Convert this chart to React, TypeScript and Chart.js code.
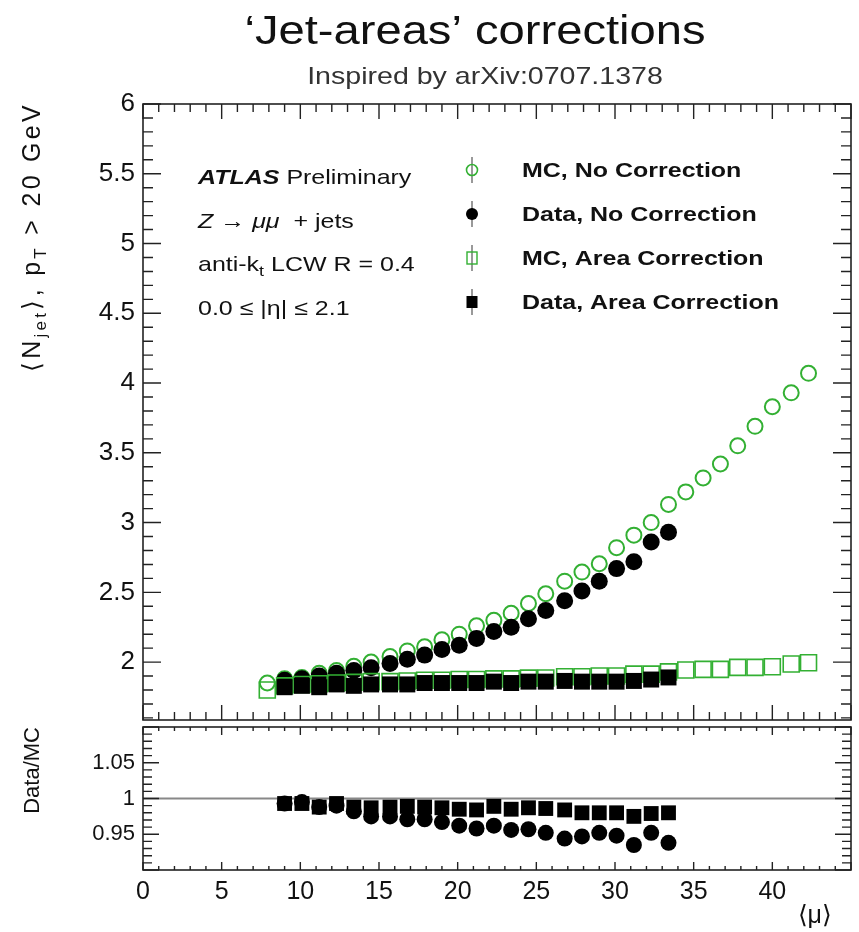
import React, { useEffect, useRef } from 'react';
import { Chart, registerables } from 'chart.js';

Chart.register(...registerables);

// ---------------- data ----------------
const MC_MU = [7.9, 9.0, 10.1, 11.2, 12.3, 13.4, 14.5, 15.7, 16.8, 17.9, 19.0, 20.1, 21.2, 22.3, 23.4, 24.5, 25.6, 26.8, 27.9, 29.0, 30.1, 31.2, 32.3, 33.4, 34.5, 35.6, 36.7, 37.8, 38.9, 40.0, 41.2, 42.3];
const DATA_MU = [9.0, 10.1, 11.2, 12.3, 13.4, 14.5, 15.7, 16.8, 17.9, 19.0, 20.1, 21.2, 22.3, 23.4, 24.5, 25.6, 26.8, 27.9, 29.0, 30.1, 31.2, 32.3, 33.4];

const MC_NO_CORR = [1.85, 1.88, 1.89, 1.92, 1.94, 1.97, 2.0, 2.04, 2.08, 2.11, 2.16, 2.2, 2.26, 2.3, 2.35, 2.42, 2.49, 2.58, 2.645, 2.705, 2.82, 2.91, 3.0, 3.13, 3.22, 3.32, 3.42, 3.55, 3.69, 3.83, 3.93, 4.07];
const DATA_NO_CORR = [1.87, 1.88, 1.9, 1.92, 1.94, 1.96, 1.99, 2.02, 2.05, 2.09, 2.12, 2.17, 2.22, 2.25, 2.31, 2.37, 2.44, 2.51, 2.58, 2.67, 2.72, 2.86, 2.93];
const MC_AREA = [1.8, 1.83, 1.84, 1.845, 1.85, 1.855, 1.86, 1.86, 1.865, 1.87, 1.87, 1.875, 1.875, 1.88, 1.88, 1.885, 1.886, 1.895, 1.895, 1.9, 1.9, 1.914, 1.914, 1.93, 1.943, 1.948, 1.948, 1.962, 1.962, 1.967, 1.986, 1.995];
const DATA_AREA = [1.82, 1.83, 1.82, 1.84, 1.83, 1.84, 1.84, 1.84, 1.85, 1.85, 1.85, 1.85, 1.86, 1.85, 1.86, 1.86, 1.865, 1.86, 1.86, 1.86, 1.865, 1.875, 1.89];

const RATIO_NO_CORR = [0.993, 0.995, 0.988, 0.99, 0.982, 0.975, 0.975, 0.971, 0.971, 0.967, 0.962, 0.958, 0.962, 0.956, 0.957, 0.952, 0.944, 0.947, 0.952, 0.948, 0.935, 0.952, 0.938];
const RATIO_AREA = [0.993, 0.993, 0.988, 0.993, 0.988, 0.987, 0.988, 0.989, 0.988, 0.987, 0.985, 0.984, 0.989, 0.985, 0.987, 0.986, 0.984, 0.98, 0.98, 0.98, 0.975, 0.979, 0.98];

const X_TICKS = [0, 5, 10, 15, 20, 25, 30, 35, 40];
const Y_TICKS_MAIN = [2, 2.5, 3, 3.5, 4, 4.5, 5, 5.5, 6];
const Y_TICKS_RATIO = [0.95, 1, 1.05];

const LEGEND_LABELS = ['MC, No Correction', 'Data, No Correction', 'MC, Area Correction', 'Data, Area Correction'];

// ---------------- style ----------------
const FONT = '"Liberation Sans", Arial, Helvetica, sans-serif';
const GREEN = '#33b033';
const INK = '#111';
const SX = 1.19; // horizontal text stretch of the reference

const pts = (xs: number[], ys: number[]) => xs.map((x, i) => ({ x, y: ys[i] }));

type Run = { t: string; size: number; weight?: string; style?: string; dy?: number };
const fontOf = (r: Run) => `${r.style || ''} ${r.weight || ''} ${r.size}px ${FONT}`.trim();
function runsWidth(ctx: CanvasRenderingContext2D, runs: Run[], ls = 0) {
  let w = 0;
  for (const r of runs) {
    ctx.font = fontOf(r);
    for (const ch of Array.from(r.t)) w += ctx.measureText(ch).width + ls;
  }
  return w;
}
function drawRuns(ctx: CanvasRenderingContext2D, x: number, y: number, runs: Run[], sx = 1, ls = 0) {
  ctx.save();
  ctx.translate(x, y);
  ctx.scale(sx, 1);
  ctx.textAlign = 'left';
  ctx.textBaseline = 'alphabetic';
  let cx = 0;
  for (const r of runs) {
    ctx.font = fontOf(r);
    if (ls === 0) {
      ctx.fillText(r.t, cx, r.dy || 0);
      cx += ctx.measureText(r.t).width;
    } else {
      for (const ch of Array.from(r.t)) {
        ctx.fillText(ch, cx, r.dy || 0);
        cx += ctx.measureText(ch).width + ls;
      }
    }
  }
  ctx.restore();
}
function drawCentered(ctx: CanvasRenderingContext2D, cx: number, y: number, runs: Run[], sx = 1) {
  const w = runsWidth(ctx, runs) * sx;
  drawRuns(ctx, cx - w / 2, y, runs, sx);
}
function drawRotatedRuns(ctx: CanvasRenderingContext2D, baseX: number, topY: number, runs: Run[], ls = 0) {
  const w = runsWidth(ctx, runs, ls);
  ctx.save();
  ctx.translate(baseX, topY);
  ctx.rotate(-Math.PI / 2);
  drawRuns(ctx, -w, 0, runs, 1, ls);
  ctx.restore();
}

type FrameCfg = {
  yMinorStep: number; yMinI: number; yMaxI: number; yMajEvery: number; yMaj: number; yMin: number;
  xMaj: number; xMin: number;
};
function framePlugin(cfg: FrameCfg) {
  return {
    id: 'frameTicks',
    afterDatasetsDraw(chart: any) {
      const { ctx, chartArea: a, scales } = chart;
      const xs = scales.x, ys = scales.y;
      ctx.save();
      ctx.strokeStyle = '#222';
      ctx.lineWidth = 1.4;
      ctx.beginPath();
      for (let i = 0; i <= 45; i++) {
        const major = i % 5 === 0;
        const L = major ? cfg.xMaj : cfg.xMin;
        const px = xs.getPixelForValue(i);
        ctx.moveTo(px, a.bottom); ctx.lineTo(px, a.bottom - L);
        ctx.moveTo(px, a.top); ctx.lineTo(px, a.top + L);
      }
      for (let i = cfg.yMinI; i <= cfg.yMaxI; i++) {
        const major = i % cfg.yMajEvery === 0;
        const L = major ? cfg.yMaj : cfg.yMin;
        const py = ys.getPixelForValue(i * cfg.yMinorStep);
        ctx.moveTo(a.left, py); ctx.lineTo(a.left + L, py);
        ctx.moveTo(a.right, py); ctx.lineTo(a.right - L, py);
      }
      ctx.stroke();
      ctx.lineWidth = 1.6;
      ctx.strokeRect(a.left, a.top, a.right - a.left, a.bottom - a.top);
      ctx.restore();
    },
  };
}

const mainTextPlugin = {
  id: 'mainText',
  afterDraw(chart: any) {
    const ctx: CanvasRenderingContext2D = chart.ctx;
    ctx.save();
    ctx.fillStyle = INK;
    // title
    drawCentered(ctx, 475, 44, [{ t: '\u2018Jet-areas\u2019 corrections', size: 41 }], 1.15);
    ctx.fillStyle = '#333';
    drawCentered(ctx, 485, 84, [{ t: 'Inspired by arXiv:0707.1378', size: 24 }], SX);
    ctx.fillStyle = INK;

    // info block
    const lx = 198;
    drawRuns(ctx, lx, 184, [{ t: 'ATLAS', size: 21, weight: 'bold', style: 'italic' }, { t: ' Preliminary', size: 21 }], SX);
    drawRuns(ctx, lx, 228, [
      { t: 'Z', size: 21, style: 'italic' }, { t: ' \u2192 ', size: 21 }, { t: '\u03bc\u03bc', size: 21, style: 'italic' }, { t: '  + jets', size: 21 },
    ], SX);
    drawRuns(ctx, lx, 271, [{ t: 'anti-k', size: 21 }, { t: 't', size: 15, dy: 5 }, { t: ' LCW R = 0.4', size: 21 }], SX);
    drawRuns(ctx, lx, 315, [{ t: '0.0 \u2264 |\u03b7| \u2264 2.1', size: 21 }], SX);

    // legend
    const rows = [170, 214, 258, 302];
    const mx = 472;
    rows.forEach((ry, i) => {
      ctx.strokeStyle = '#777';
      ctx.lineWidth = 1.5;
      ctx.beginPath(); ctx.moveTo(mx, ry - 13); ctx.lineTo(mx, ry + 13); ctx.stroke();
      if (i === 0) {
        ctx.strokeStyle = GREEN; ctx.lineWidth = 1.6;
        ctx.beginPath(); ctx.arc(mx, ry, 5.5, 0, Math.PI * 2); ctx.stroke();
      } else if (i === 1) {
        ctx.fillStyle = '#000';
        ctx.beginPath(); ctx.arc(mx, ry, 6, 0, Math.PI * 2); ctx.fill();
      } else if (i === 2) {
        ctx.strokeStyle = GREEN; ctx.lineWidth = 1.4;
        ctx.strokeRect(mx - 5, ry - 6, 10, 12);
      } else {
        ctx.fillStyle = '#000';
        ctx.fillRect(mx - 5.5, ry - 6, 11, 12);
      }
      ctx.fillStyle = INK;
      drawRuns(ctx, 522, ry + 7, [{ t: LEGEND_LABELS[i], size: 21, weight: 'bold' }], SX);
    });

    // y title
    drawRotatedRuns(ctx, 40, 102, [
      { t: '\u27e8N', size: 25 }, { t: 'jet', size: 17, dy: 6 }, { t: '\u27e9, p', size: 25 }, { t: 'T', size: 17, dy: 6 }, { t: ' > 20 GeV', size: 25 },
    ], 3.3);
    ctx.restore();
  },
};

const ratioTextPlugin = {
  id: 'ratioText',
  beforeDatasetsDraw(chart: any) {
    const { ctx, scales } = chart;
    const py = scales.y.getPixelForValue(1);
    ctx.save();
    ctx.strokeStyle = '#888';
    ctx.lineWidth = 2;
    ctx.beginPath();
    ctx.moveTo(scales.x.getPixelForValue(0), py);
    ctx.lineTo(scales.x.getPixelForValue(45), py);
    ctx.stroke();
    ctx.restore();
  },
  afterDraw(chart: any) {
    const ctx: CanvasRenderingContext2D = chart.ctx;
    ctx.save();
    ctx.fillStyle = INK;
    drawRotatedRuns(ctx, 39, 3, [{ t: 'Data/MC', size: 22 }]);
    ctx.textAlign = 'right';
    ctx.font = `25px ${FONT}`;
    ctx.fillText('\u27e8\u03bc\u27e9', 832, 199);
    ctx.restore();
  },
};

const axisCommon = {
  grid: { display: false, drawTicks: false },
  border: { display: false },
};
const noPad = (s: any) => { s.paddingTop = 0; s.paddingBottom = 0; s.paddingLeft = 0; s.paddingRight = 0; };

export default function App() {
  const mainRef = useRef<HTMLCanvasElement>(null);
  const ratioRef = useRef<HTMLCanvasElement>(null);

  useEffect(() => {
    const main = new Chart(mainRef.current as HTMLCanvasElement, {
      type: 'scatter',
      data: {
        datasets: [
          { label: LEGEND_LABELS[0], data: pts(MC_MU, MC_NO_CORR), pointStyle: 'circle', pointRadius: 7.5, borderColor: GREEN, backgroundColor: 'rgba(0,0,0,0)', borderWidth: 2, order: 4 },
          { label: LEGEND_LABELS[1], data: pts(DATA_MU, DATA_NO_CORR), pointStyle: 'circle', pointRadius: 8.5, borderColor: '#000', backgroundColor: '#000', borderWidth: 0, order: 3 },
          { label: LEGEND_LABELS[2], data: pts(MC_MU, MC_AREA), pointStyle: 'rect', pointRadius: 11.3, borderColor: GREEN, backgroundColor: 'rgba(0,0,0,0)', borderWidth: 1.6, order: 2 },
          { label: LEGEND_LABELS[3], data: pts(DATA_MU, DATA_AREA), pointStyle: 'rect', pointRadius: 11.3, borderColor: '#000', backgroundColor: '#000', borderWidth: 0, order: 1 },
        ] as any,
      },
      options: {
        responsive: false,
        animation: false,
        devicePixelRatio: 1,
        events: [],
        layout: { autoPadding: false, padding: { left: 0, right: 8, top: 104, bottom: 0 } },
        plugins: { legend: { display: false }, tooltip: { enabled: false }, title: { display: false } },
        scales: {
          x: {
            type: 'linear', min: 0, max: 45, ...axisCommon,
            ticks: { display: false },
            afterFit: (s: any) => { s.height = 4; noPad(s); },
          },
          y: {
            type: 'linear', min: 1.585, max: 6, ...axisCommon,
            ticks: { font: { family: FONT, size: 26 }, color: INK, padding: 8, callback: (v: any) => String(v) },
            afterBuildTicks: (s: any) => { s.ticks = Y_TICKS_MAIN.map((v) => ({ value: v })); },
            afterFit: (s: any) => { s.width = 143; noPad(s); },
          },
        } as any,
      },
      plugins: [framePlugin({ yMinorStep: 0.1, yMinI: 16, yMaxI: 60, yMajEvery: 5, yMaj: 18, yMin: 10, xMaj: 15, xMin: 8 }), mainTextPlugin],
    });

    const ratio = new Chart(ratioRef.current as HTMLCanvasElement, {
      type: 'scatter',
      data: {
        datasets: [
          { label: 'Data/MC, No Correction', data: pts(DATA_MU, RATIO_NO_CORR), pointStyle: 'circle', pointRadius: 8, borderColor: '#000', backgroundColor: '#000', borderWidth: 0, order: 2 },
          { label: 'Data/MC, Area Correction', data: pts(DATA_MU, RATIO_AREA), pointStyle: 'rect', pointRadius: 10.5, borderColor: '#000', backgroundColor: '#000', borderWidth: 0, order: 1 },
        ] as any,
      },
      options: {
        responsive: false,
        animation: false,
        devicePixelRatio: 1,
        events: [],
        layout: { autoPadding: false, padding: { left: 0, right: 8, top: 3, bottom: 0 } },
        plugins: { legend: { display: false }, tooltip: { enabled: false } },
        scales: {
          x: {
            type: 'linear', min: 0, max: 45, ...axisCommon,
            ticks: { font: { family: FONT, size: 25 }, color: INK, padding: 7, maxRotation: 0, autoSkip: false, callback: (v: any) => String(v) },
            afterBuildTicks: (s: any) => { s.ticks = X_TICKS.map((v) => ({ value: v })); },
            afterFit: (s: any) => { s.height = 62; noPad(s); },
          },
          y: {
            type: 'linear', min: 0.9, max: 1.1, ...axisCommon,
            ticks: { font: { family: FONT, size: 22 }, color: INK, padding: 8, callback: (v: any) => String(v) },
            afterBuildTicks: (s: any) => { s.ticks = Y_TICKS_RATIO.map((v) => ({ value: v })); },
            afterFit: (s: any) => { s.width = 143; noPad(s); },
          },
        } as any,
      },
      plugins: [framePlugin({ yMinorStep: 0.01, yMinI: 90, yMaxI: 110, yMajEvery: 5, yMaj: 16, yMin: 9, xMaj: 8, xMin: 4 }), ratioTextPlugin],
    });

    return () => { main.destroy(); ratio.destroy(); };
  }, []);

  return (
    <div style={{ position: 'absolute', left: 0, top: 0, width: 859, height: 932, background: '#fff' }}>
      <canvas ref={mainRef} width={859} height={724} style={{ position: 'absolute', left: 0, top: 0, width: 859, height: 724 }} />
      <canvas ref={ratioRef} width={859} height={208} style={{ position: 'absolute', left: 0, top: 724, width: 859, height: 208 }} />
    </div>
  );
}
